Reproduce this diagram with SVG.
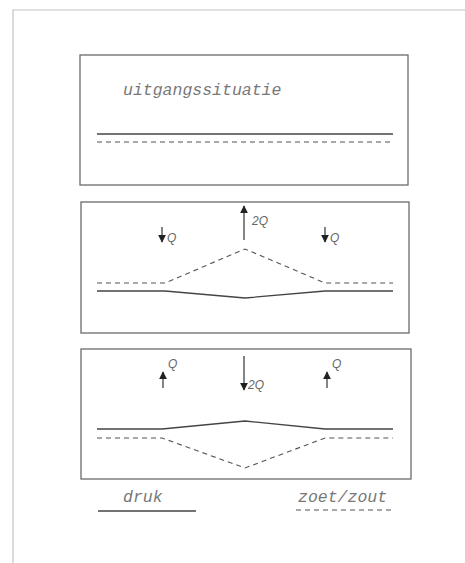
<svg xmlns="http://www.w3.org/2000/svg" width="465" height="563" viewBox="0 0 465 563">
<style>
.frame{fill:none;stroke:#c4c4c4;stroke-width:1.2}
.box{fill:none;stroke:#6a6a6a;stroke-width:1.3}
.solid{fill:none;stroke:#444;stroke-width:1.3}
.dash{fill:none;stroke:#555;stroke-width:1.1;stroke-dasharray:5 4}
.arr{fill:none;stroke:#333;stroke-width:1.2}
.mono{font-family:"Liberation Mono","DejaVu Sans Mono",monospace;font-style:italic;font-size:16.5px;fill:#777}
.q{font-family:"Liberation Sans",Arial,sans-serif;font-style:italic;font-size:12px;fill:#666}
</style>
<defs>
<marker id="ah" viewBox="0 0 10 10" refX="9" refY="5" markerWidth="8" markerHeight="8" markerUnits="userSpaceOnUse" orient="auto">
<path d="M0,0 L10,5 L0,10 Z" fill="#222"/>
</marker>
</defs>
<rect width="465" height="563" fill="#fff"/>
<path class="frame" d="M13,563 V10 H465"/>

<g id="panel1">
<rect class="box" x="80" y="55" width="328" height="130"/>
<text class="mono" x="123" y="95">uitgangssituatie</text>
<line class="solid" x1="97" y1="134" x2="393" y2="134"/>
<line class="dash" x1="97" y1="142" x2="393" y2="142"/>
</g>

<g id="panel2">
<rect class="box" x="81" y="202" width="328" height="131"/>
<polyline class="dash" points="97,283 165,283 245,249 325,283 393,283"/>
<polyline class="solid" points="97,291 165,291 245,298 325,291 393,291"/>
<line class="arr" x1="162" y1="227" x2="162" y2="242" marker-end="url(#ah)"/>
<text class="q" x="167" y="242">Q</text>
<line class="arr" x1="244" y1="240" x2="244" y2="206" marker-end="url(#ah)"/>
<text class="q" x="252" y="225">2Q</text>
<line class="arr" x1="325" y1="227" x2="325" y2="242" marker-end="url(#ah)"/>
<text class="q" x="330" y="242">Q</text>
</g>

<g id="panel3">
<rect class="box" x="81" y="349" width="330" height="130"/>
<polyline class="solid" points="97,429 162,429 245,421 325,429 393,429"/>
<polyline class="dash" points="97,438 162,438 245,468 325,438 393,438"/>
<line class="arr" x1="163" y1="388" x2="163" y2="372" marker-end="url(#ah)"/>
<text class="q" x="168" y="368">Q</text>
<line class="arr" x1="244" y1="356" x2="244" y2="390" marker-end="url(#ah)"/>
<text class="q" x="248" y="389">2Q</text>
<line class="arr" x1="327" y1="388" x2="327" y2="372" marker-end="url(#ah)"/>
<text class="q" x="332" y="368">Q</text>
</g>

<g id="legend">
<text class="mono" x="123" y="502">druk</text>
<line class="solid" x1="98" y1="511" x2="196" y2="511"/>
<text class="mono" x="298" y="502">zoet/zout</text>
<line class="dash" x1="296" y1="510" x2="392" y2="510"/>
</g>
</svg>
